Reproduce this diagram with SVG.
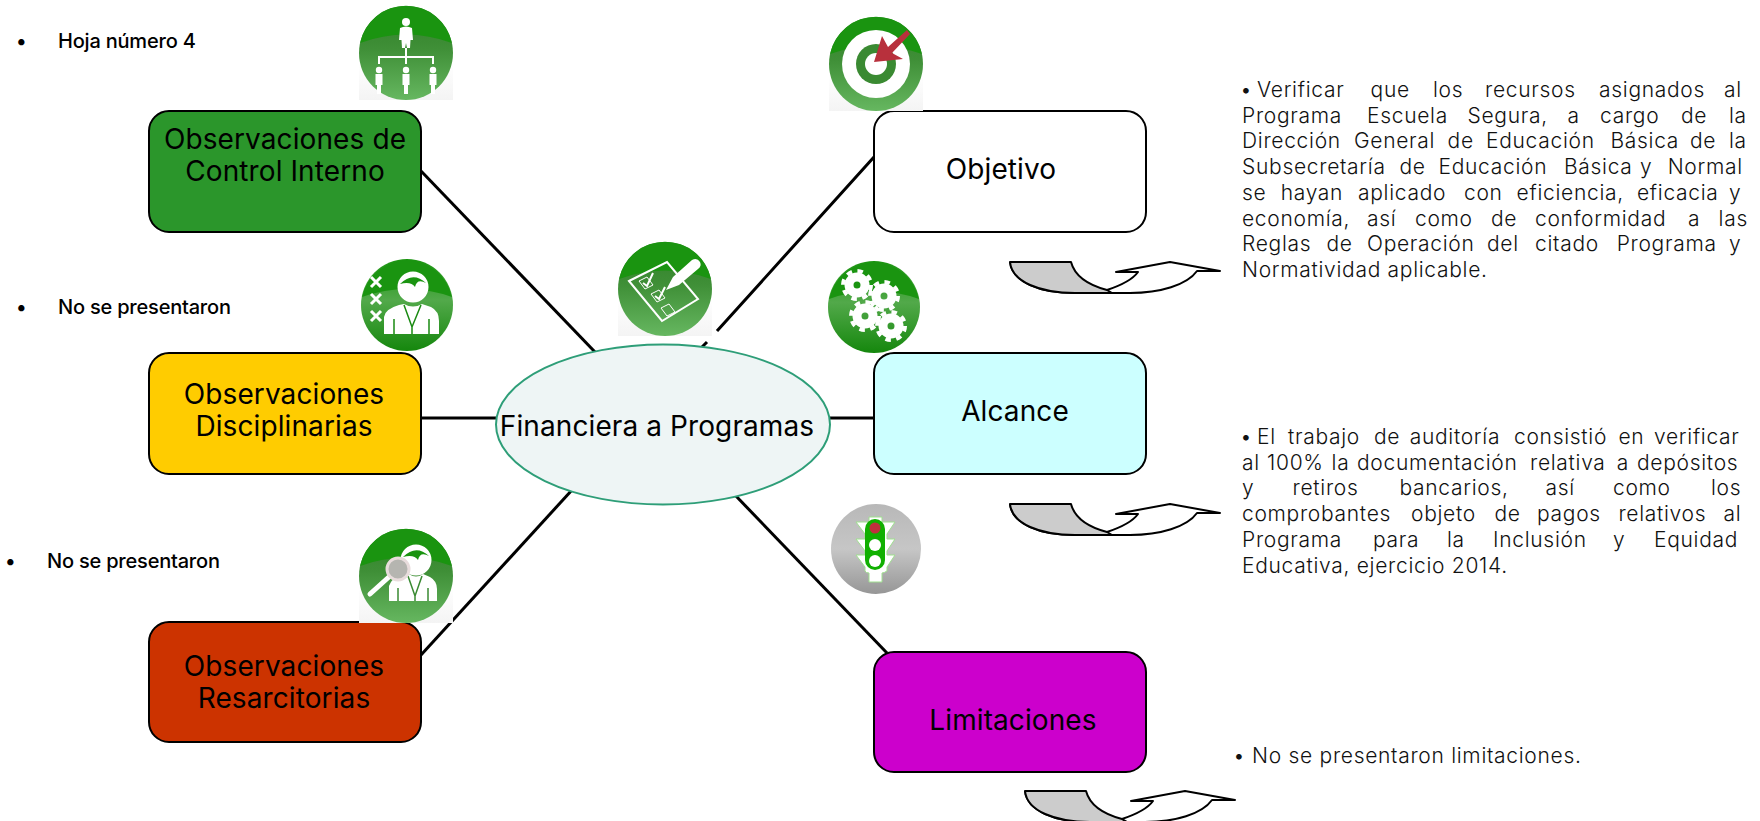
<svg xmlns="http://www.w3.org/2000/svg" width="1760" height="821" viewBox="0 0 1760 821">
<style>
.box{stroke:#000;stroke-width:2}
.lbl{font-family:Inter,"Noto Sans",sans-serif;font-size:28px;font-weight:400;fill:#000;text-anchor:middle;letter-spacing:.1px}
.note{font-family:Inter,"Noto Sans",sans-serif;font-size:20px;font-weight:500;fill:#000;letter-spacing:-.2px}
.body{font-family:Inter,"Noto Sans",sans-serif;font-size:21px;font-weight:300;fill:#111;letter-spacing:.7px}
.conn{stroke:#000;stroke-width:3;fill:none}
.arr{stroke:#000;stroke-width:2;fill:#fff;stroke-linejoin:round}
.grey{stroke:#000;stroke-width:2;fill:#ccc;stroke-linejoin:round}
.w{fill:#fff}
.ws{fill:none;stroke:#fff;stroke-width:2}
</style>
<defs>
<linearGradient id="low" x1="0" y1="0" x2="0" y2="1"><stop offset="0" stop-color="#2f7f27"/><stop offset=".45" stop-color="#3f8f37"/><stop offset="1" stop-color="#66b760"/></linearGradient>
<linearGradient id="low2" x1="0" y1="0" x2="0" y2="1"><stop offset="0" stop-color="#1a9410"/><stop offset=".45" stop-color="#52a94a"/><stop offset="1" stop-color="#15870d"/></linearGradient>
<linearGradient id="grey" x1="0" y1="0" x2="0" y2="1"><stop offset="0" stop-color="#b8b8b8"/><stop offset=".5" stop-color="#c6c6c6"/><stop offset="1" stop-color="#969696"/></linearGradient>
<linearGradient id="sq" x1="0" y1="0" x2="0" y2="1"><stop offset="0" stop-color="#fff"/><stop offset=".6" stop-color="#fff"/><stop offset="1" stop-color="#f4f4f4"/></linearGradient>
<g id="disc"><rect x="-47" y="-47" width="94" height="94" fill="url(#sq)"/><circle r="47" fill="url(#low)"/><path d="M-46,-10A47,47 0 0 1 46,-10Q0,-27 -46,-10Z" fill="#1a9410"/></g>
<g id="disc2"><circle r="46" fill="url(#low2)"/><path d="M-45,-8A46,46 0 0 1 45,-8Q0,-24 -45,-8Z" fill="#1a9410"/></g>
<g id="gear"><circle r="8" fill="none" stroke="#fff" stroke-width="9"/><circle r="14" fill="none" stroke="#fff" stroke-width="4" stroke-dasharray="5.5 5.5"/></g>
<g id="mini"><circle cy="-10" r="3.2" class="w"/><path class="w" d="M-3.5,-6H3.5V5L2,5V14H-2V5L-3.5,5Z"/></g>
<g id="xm"><path d="M-5,-5L5,5M5,-5L-5,5" stroke="#fff" stroke-width="3" fill="none"/></g>
<g id="turn"><path class="arr" d="M1010,262C1012,282 1040,293 1075,293H1130C1160,293 1187,285 1197,271H1220L1170,262L1116,272H1138C1133,279 1122,285 1107,290"/><path class="grey" d="M1010,262H1071C1075,277 1088,285 1107,290L1112,293H1075C1040,293 1012,282 1010,262Z"/></g>
</defs>

<g id="connectors">
<path class="conn" d="M421,171L595,352"/>
<path class="conn" d="M421,418H496"/>
<path class="conn" d="M421,655L572,490"/>
<path class="conn" d="M874,157L717,331M707,342L701,348"/>
<path class="conn" d="M830,418H874"/>
<path class="conn" d="M735,495L887,653"/>
</g>

<g id="node-center"><ellipse cx="663" cy="424.500" rx="167" ry="80" fill="#eef5f5" stroke="#2e9e78" stroke-width="2"/>
<text class="lbl" x="657" y="436">Financiera a Programas</text></g>

<g id="node-control"><rect class="box" x="149" y="111" width="272" height="121" rx="20" fill="#2b962b"/>
<text class="lbl" x="285" y="149">Observaciones de</text><text class="lbl" x="285" y="181">Control Interno</text></g>
<g id="node-disciplinarias"><rect class="box" x="149" y="353" width="272" height="121" rx="20" fill="#ffcc00"/>
<text class="lbl" x="284" y="404">Observaciones</text><text class="lbl" x="284" y="436">Disciplinarias</text></g>
<g id="node-resarcitorias"><rect class="box" x="149" y="622" width="272" height="120" rx="20" fill="#cc3300"/>
<text class="lbl" x="284" y="676">Observaciones</text><text class="lbl" x="284" y="708">Resarcitorias</text></g>
<g id="node-objetivo"><rect class="box" x="874" y="111" width="272" height="121" rx="20" fill="#fff"/>
<text class="lbl" x="1001" y="179">Objetivo</text></g>
<g id="node-alcance"><rect class="box" x="874" y="353" width="272" height="121" rx="20" fill="#ccffff"/>
<text class="lbl" x="1015" y="421">Alcance</text></g>
<g id="node-limitaciones"><rect class="box" x="874" y="652" width="272" height="120" rx="20" fill="#cc00cc"/>
<text class="lbl" x="1013" y="730">Limitaciones</text></g>

<g id="icon-org" transform="translate(406,53)"><use href="#disc"/>
<circle cy="-31" r="4" class="w"/><path class="w" d="M-6,-25Q0,-28 6,-25L7,-13H4.500L4,-5H1L0,-10L-1,-5H-4L-4.500,-13H-7Z"/>
<path d="M-27,11V4H27V11M0,-5V11" fill="none" stroke="#fff" stroke-width="2"/>
<use href="#mini" x="-27" y="27"/><use href="#mini" y="27"/><use href="#mini" x="27" y="27"/></g>

<g id="icon-target" transform="translate(876,64)"><use href="#disc"/>
<circle r="34" class="w"/><circle r="20" fill="#3a8a32"/><circle r="11" class="w"/>
<path d="M-2,-2L6,-28L12,-17L31,-34L34,-30L16,-11L27,-5Z" fill="#b8303c"/></g>

<g id="icon-check" transform="translate(665,289)"><use href="#disc"/>
<path class="ws" d="M-36,-8L2,-27L33,10L-3,32Z"/>
<path class="w" d="M1,1L8,-12L27,-29Q32,-32 35,-27Q37,-23 33,-20L14,-4Z"/>
<path class="ws" style="stroke-width:1" d="M-26,-8L-18,-12L-12,-4L-20,0ZM-14,5L-6,1L0,9L-8,13ZM-4,19L4,15L10,23L2,27Z"/>
<path class="ws" d="M-22,-6L-18,-3L-12,-16M-10,7L-6,10L0,-2"/></g>

<g id="icon-gears" transform="translate(874,307)"><use href="#disc2"/>
<use href="#gear" x="-17" y="-22"/><use href="#gear" x="10" y="-11"/><use href="#gear" x="-9" y="9"/><use href="#gear" x="17" y="19"/></g>

<g id="icon-disc" transform="translate(407,305)"><use href="#disc2"/>
<use href="#xm" x="-31" y="-23"/><use href="#xm" x="-31" y="-6"/><use href="#xm" x="-31" y="11"/>
<circle cx="6" cy="-18" r="14" fill="#fff" stroke="#fff" stroke-width="3"/><path d="M-7,-21Q6,-34 19,-22Q10,-27 8,-18Q4,-24 -7,-21Z" fill="#1a9410"/>
<path class="w" d="M-23,29V12Q-22,4 -8,0L-3,-1Q6,4 15,-1L24,2Q32,6 32,16V29Z"/>
<path d="M-13,29V14M22,29V14M-3,0L5,22L14,0M5,22V29" stroke="#1a8a12" stroke-width="1.500" fill="none"/></g>

<g id="icon-mag" transform="translate(406,576)"><use href="#disc"/>
<circle cx="10" cy="-16" r="14" fill="#fff" stroke="#fff" stroke-width="3"/><path d="M-3,-19Q10,-32 23,-20Q14,-25 12,-16Q8,-22 -3,-19Z" fill="#1a9410"/>
<path class="w" d="M-17,25V10Q-15,2 -2,0L3,-2Q10,3 17,-2L24,1Q31,5 31,13V25Z"/>
<path d="M-8,25V12M22,25V12M2,0L9,20L16,0M9,20V25" stroke="#3a8a32" stroke-width="1.500" fill="none"/>
<path d="M-36,18L-16,0" stroke="#fff" stroke-width="5" stroke-linecap="round"/>
<circle cx="-8" cy="-7" r="11" fill="#b5b5b0" stroke="#e8dcdc" stroke-width="3"/></g>

<g id="icon-traffic" transform="translate(876,549)"><circle r="45" fill="url(#grey)"/>
<path class="w" stroke="#9fe08f" stroke-width="1" d="M-7,-32H6V-27H19L11,-15V-10H19L11,2V6H19L11,18V22Q8,24 6,24V33H-7V24Q-10,24 -11,22V18L-20,6H-11V2L-20,-10H-11V-15L-20,-27H-7Z"/>
<rect x="-11" y="-30" width="20" height="51" rx="10" fill="#10b000"/>
<circle cx="-1" cy="-21" r="5.500" fill="#c0303c"/><circle cx="-1" cy="-4" r="6" class="w"/><circle cx="-1" cy="12" r="6" class="w"/></g>

<g id="arrow-1"><use href="#turn"/></g>
<g id="arrow-2" transform="translate(0,242)"><use href="#turn"/></g>
<g id="arrow-3" transform="translate(15,529)"><use href="#turn"/></g>

<g id="notes">
<text class="note" x="16" y="48">•</text><text class="note" x="58" y="48">Hoja número 4</text>
<text class="note" x="16" y="314">•</text><text class="note" x="58" y="314">No se presentaron</text>
<text class="note" x="5" y="568">•</text><text class="note" x="47" y="568">No se presentaron</text>
</g>

<text class="body" y="97"><tspan x="1240">•</tspan><tspan x="1257">Verificar</tspan><tspan x="1370.600">que</tspan><tspan x="1433">los</tspan><tspan x="1485">recursos</tspan><tspan x="1599">asignados</tspan><tspan x="1724">al</tspan></text>
<text class="body" y="122.700"><tspan x="1242">Programa</tspan><tspan x="1367">Escuela</tspan><tspan x="1467.500">Segura,</tspan><tspan x="1567.500">a</tspan><tspan x="1600">cargo</tspan><tspan x="1681">de</tspan><tspan x="1729">la</tspan></text>
<text class="body" y="148.400"><tspan x="1242">Dirección</tspan><tspan x="1354">General</tspan><tspan x="1447.600">de</tspan><tspan x="1486">Educación</tspan><tspan x="1610.500">Básica</tspan><tspan x="1690">de</tspan><tspan x="1729">la</tspan></text>
<text class="body" y="174.100"><tspan x="1242">Subsecretaría</tspan><tspan x="1399.500">de</tspan><tspan x="1438.500">Educación</tspan><tspan x="1564">Básica</tspan><tspan x="1640">y</tspan><tspan x="1667.700">Normal</tspan></text>
<text class="body" y="199.800"><tspan x="1242">se</tspan><tspan x="1280.700">hayan</tspan><tspan x="1358">aplicado</tspan><tspan x="1464">con</tspan><tspan x="1516.600">eficiencia,</tspan><tspan x="1637">eficacia</tspan><tspan x="1729">y</tspan></text>
<text class="body" y="225.500"><tspan x="1242">economía,</tspan><tspan x="1367">así</tspan><tspan x="1415">como</tspan><tspan x="1491">de</tspan><tspan x="1535">conformidad</tspan><tspan x="1688">a</tspan><tspan x="1718.600">las</tspan></text>
<text class="body" y="251.200"><tspan x="1242">Reglas</tspan><tspan x="1326.500">de</tspan><tspan x="1367">Operación</tspan><tspan x="1487">del</tspan><tspan x="1535">citado</tspan><tspan x="1616.700">Programa</tspan><tspan x="1729">y</tspan></text>
<text class="body" x="1242" y="276.900">Normatividad aplicable.</text>

<text class="body" y="444"><tspan x="1240">•</tspan><tspan x="1257">El</tspan><tspan x="1288">trabajo</tspan><tspan x="1374">de</tspan><tspan x="1409.700">auditoría</tspan><tspan x="1514">consistió</tspan><tspan x="1618.400">en</tspan><tspan x="1654">verificar</tspan></text>
<text class="body" y="469.700"><tspan x="1242">al</tspan><tspan x="1267">100%</tspan><tspan x="1331.600">la</tspan><tspan x="1357">documentación</tspan><tspan x="1530">relativa</tspan><tspan x="1616.700">a</tspan><tspan x="1637">depósitos</tspan></text>
<text class="body" y="495.400"><tspan x="1242">y</tspan><tspan x="1292.600">retiros</tspan><tspan x="1399.500">bancarios,</tspan><tspan x="1545.400">así</tspan><tspan x="1613">como</tspan><tspan x="1711">los</tspan></text>
<text class="body" y="521.100"><tspan x="1242">comprobantes</tspan><tspan x="1411">objeto</tspan><tspan x="1494.500">de</tspan><tspan x="1537">pagos</tspan><tspan x="1618.400">relativos</tspan><tspan x="1723.600">al</tspan></text>
<text class="body" y="546.800"><tspan x="1242">Programa</tspan><tspan x="1373">para</tspan><tspan x="1447">la</tspan><tspan x="1493">Inclusión</tspan><tspan x="1613">y</tspan><tspan x="1654">Equidad</tspan></text>
<text class="body" x="1242" y="572.500">Educativa, ejercicio 2014.</text>

<text class="body" x="1233" y="763">• No se presentaron limitaciones.</text>
</svg>
